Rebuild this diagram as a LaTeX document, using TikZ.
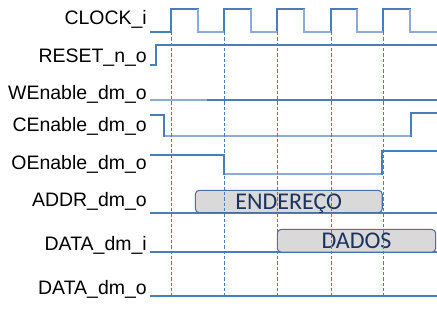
\documentclass[tikz,border=0pt]{standalone}
\usepackage{fontspec}
\setmainfont{Liberation Sans}
\newfontfamily\busfont{Carlito}
\usetikzlibrary{positioning}
\definecolor{Sig}  {HTML}{4A7EBB}
\definecolor{SigL} {HTML}{8DABD5}
\definecolor{BusF} {HTML}{D9D9D9}
\definecolor{BusD} {HTML}{4A6FA5}
\definecolor{BusT} {HTML}{1A3360}
\tikzset{
  sname/.style={
    anchor=base east, inner sep=0pt, text=black,
    font=\fontsize{14.6}{16}\selectfont,
  },
  wave/.style={draw=Sig, line width=1pt},
  wavel/.style={draw=SigL, line width=1.4pt},
  tick/.style={draw=Sig, line width=0.6pt, dash pattern=on 2.5pt off 1.5pt},
  bus/.style args={#1/#2}{
    rectangle, rounded corners=3pt,
    draw=BusD, fill=BusF, text=BusT,
    font=\busfont\fontsize{18}{20}\selectfont,
    inner sep=0pt, text height=11.6pt, text depth=0pt,
    minimum width=#1, minimum height=#2,
    line width=0.8pt,
  },
}
\begin{document}
\begin{tikzpicture}[x=0.75pt,y=-0.75pt]
    \useasboundingbox (0,0) rectangle (437,311);

    % signal names
    \node[sname] (clk)  at (147,24)  {CLOCK\_i};
    \node[sname] (rst)  at (147,62)  {RESET\_n\_o};
    \node[sname] (we)   at (147,99)  {WEnable\_dm\_o};
    \node[sname] (ce)   at (147,131) {CEnable\_dm\_o};
    \node[sname] (oe)   at (147,169) {OEnable\_dm\_o};
    \node[sname] (addr) at (147,206) {ADDR\_dm\_o};
    \node[sname] (din)  at (147,250) {DATA\_dm\_i};
    \node[sname] (dout) at (147,294) {DATA\_dm\_o};

    % waveforms
    \draw[wave] (150,32) -- (171,32) -- (171,9) -- (198,9) -- (198,32)
        -- (224,32) -- (224,9) -- (251,9) -- (251,32) -- (277,32) -- (277,9)
        -- (304,9) -- (304,32) -- (331,32) -- (331,9) -- (357,9) -- (357,32)
        -- (383,32) -- (383,9) -- (410,9) -- (410,32) -- (437,32);
    \draw[wavel] (198,9) -- (198,32) -- (224,32);
    \draw[wavel] (251,9) -- (251,32) -- (277,32);
    \draw[wavel] (304,9) -- (304,32) -- (331,32);
    \draw[wavel] (357,9) -- (357,32) -- (383,32);
    \draw[wavel] (410,9) -- (410,32) -- (437,32);

    \draw[wave] (150,65) -- (156,65) -- (156,45) -- (437,45);
    \draw[wave] (150,100) -- (437,100);
    \draw[wavel] (150,100) -- (207,100);
    \draw[wave] (150,115) -- (164,115) -- (164,136) -- (411,136)
        -- (411,113) -- (437,113);
    \draw[wavel] (165,136) -- (410,136);
    \draw[wave] (150,155) -- (224,155) -- (224,174) -- (382,174)
        -- (382,151) -- (437,151);
    \draw[wavel] (225,174) -- (381,174);
    \draw[wave] (150,213) -- (437,213);
    \draw[wave] (150,252) -- (437,252);
    \draw[wave] (150,296) -- (437,296);

    % bus values
    \node[bus=140.2pt/16.8pt] (adv) at (288.8,201.5) {ENDEREÇO};
    \node[bus=118.8pt/17.2pt] (dav) at (356.5,240.8) {DADOS};

    % clock edges
    \draw[tick] (171,32) -- (171,296);
    \draw[tick] (224,32) -- (224,296);
    \draw[tick] (277,32) -- (277,296);
    \draw[tick] (331,32) -- (331,296);
    \draw[tick] (383,32) -- (383,296);
  \end{tikzpicture}
\end{document}
